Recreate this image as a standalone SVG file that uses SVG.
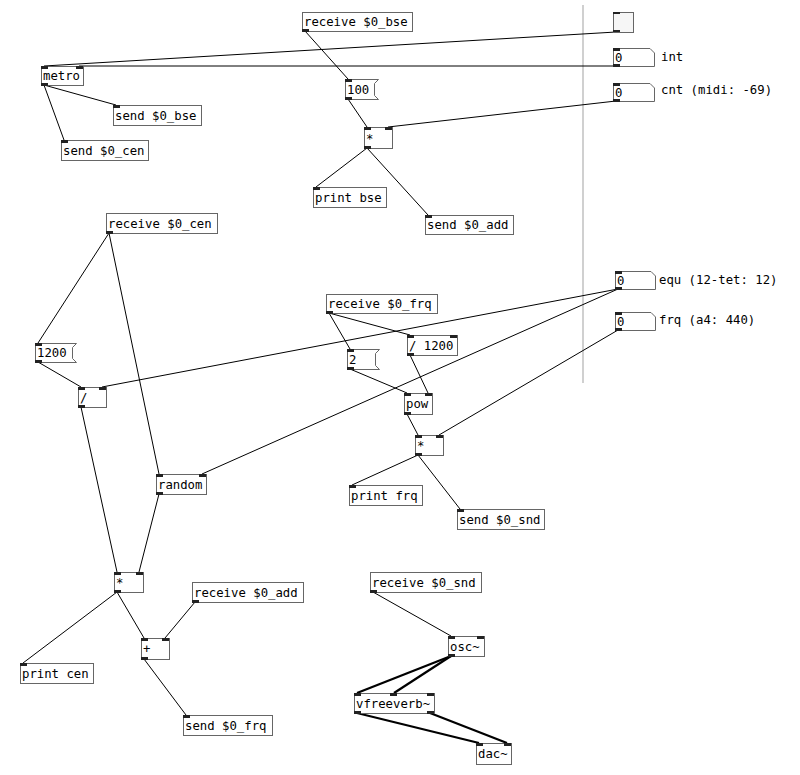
<svg xmlns="http://www.w3.org/2000/svg" width="800" height="775" viewBox="0 0 800 775">
<style>
.bx{fill:#fff;stroke:#666;stroke-width:1}
.io{fill:#222}
.t{font-family:"DejaVu Sans Mono","Liberation Mono",monospace;font-size:12.3px;fill:#000}
.c line{stroke:#000;stroke-width:1}
.c line.s{stroke-width:2.2}
</style>
<rect width="800" height="775" fill="#fff"/>
<line x1="583" y1="5" x2="583" y2="383" stroke="#d0d0d0" stroke-width="2"/>
<g class="c" id="connectors">
<line x1="616" y1="32" x2="44" y2="66"/>
<line x1="616" y1="66" x2="79" y2="66"/>
<line x1="44" y1="85" x2="116" y2="105"/>
<line x1="44" y1="85" x2="64" y2="140"/>
<line x1="305" y1="31" x2="348" y2="79"/>
<line x1="348" y1="99" x2="367" y2="127"/>
<line x1="616" y1="101" x2="388" y2="127"/>
<line x1="367" y1="148" x2="316" y2="187"/>
<line x1="367" y1="148" x2="428" y2="215"/>
<line x1="109" y1="233" x2="38" y2="343"/>
<line x1="109" y1="233" x2="159" y2="474"/>
<line x1="38" y1="362" x2="81" y2="387"/>
<line x1="618" y1="289" x2="102" y2="387"/>
<line x1="618" y1="289" x2="202" y2="474"/>
<line x1="81" y1="407" x2="117" y2="572"/>
<line x1="159" y1="494" x2="139" y2="572"/>
<line x1="117" y1="592" x2="23" y2="663"/>
<line x1="117" y1="592" x2="144" y2="638"/>
<line x1="195" y1="602" x2="165" y2="638"/>
<line x1="144" y1="659" x2="186" y2="715"/>
<line x1="329" y1="313" x2="350" y2="349"/>
<line x1="329" y1="313" x2="410" y2="335"/>
<line x1="350" y1="369" x2="407" y2="393"/>
<line x1="410" y1="355" x2="428" y2="393"/>
<line x1="407" y1="414" x2="418" y2="435"/>
<line x1="618" y1="330" x2="439" y2="435"/>
<line x1="418" y1="455" x2="352" y2="485"/>
<line x1="418" y1="455" x2="460" y2="509"/>
<line x1="373" y1="592" x2="451" y2="636"/>
<line class="s" x1="451" y1="656" x2="357" y2="693"/>
<line class="s" x1="451" y1="656" x2="394" y2="693"/>
<line class="s" x1="357" y1="713" x2="479" y2="743"/>
<line class="s" x1="430" y1="713" x2="507" y2="743"/>
</g>

<g id="bang">
<rect class="bx" x="613.5" y="12.5" width="20" height="20" style="fill:#f6f6f6"/>
<rect class="io" x="613" y="12" width="7" height="2"/>
<rect class="io" x="613" y="30" width="7" height="2"/>
</g>
<g id="nbx-int">
<path class="bx" d="M613.5,48.5 H650 L654.5,53 V66.5 H613.5 Z"/>
<rect class="io" x="613" y="48" width="7" height="3"/>
<rect class="io" x="613" y="64" width="7" height="3"/>
<text class="t" x="615" y="62">0</text>
<text class="t" x="661" y="61">int</text>
</g>
<g id="nbx-cnt">
<path class="bx" d="M613.5,83.5 H650 L654.5,88 V101.5 H613.5 Z"/>
<rect class="io" x="613" y="83" width="7" height="3"/>
<rect class="io" x="613" y="99" width="7" height="3"/>
<text class="t" x="615" y="97">0</text>
<text class="t" x="661" y="94">cnt (midi: -69)</text>
</g>
<g id="nbx-equ">
<path class="bx" d="M615.5,271.5 H651 L655.5,276 V289.5 H615.5 Z"/>
<rect class="io" x="615" y="271" width="7" height="3"/>
<rect class="io" x="615" y="287" width="7" height="3"/>
<text class="t" x="617" y="285">0</text>
<text class="t" x="659" y="284">equ (12-tet: 12)</text>
</g>
<g id="nbx-frq">
<path class="bx" d="M615.5,312.5 H651 L655.5,317 V330.5 H615.5 Z"/>
<rect class="io" x="615" y="312" width="7" height="3"/>
<rect class="io" x="615" y="328" width="7" height="3"/>
<text class="t" x="617" y="326">0</text>
<text class="t" x="659" y="324">frq (a4: 440)</text>
</g>

<g id="metro">
<rect class="bx" x="41.5" y="66.5" width="42" height="19"/>
<rect class="io" x="41" y="66" width="7" height="3"/>
<rect class="io" x="76" y="66" width="7" height="3"/>
<rect class="io" x="41" y="83" width="7" height="3"/>
<text class="t" x="43" y="80">metro</text>
</g>
<g id="send-bse">
<rect class="bx" x="113.5" y="105.5" width="88" height="20"/>
<rect class="io" x="113" y="105" width="7" height="3"/>
<text class="t" x="115" y="120">send $0_bse</text>
</g>
<g id="send-cen">
<rect class="bx" x="61.5" y="140.5" width="87" height="20"/>
<rect class="io" x="61" y="140" width="7" height="3"/>
<text class="t" x="63" y="155">send $0_cen</text>
</g>
<g id="receive-bse">
<rect class="bx" x="302.5" y="12.5" width="110" height="19"/>
<rect class="io" x="302" y="29" width="7" height="3"/>
<text class="t" x="304" y="26">receive $0_bse</text>
</g>
<g id="msg-100">
<path class="bx" d="M345.5,79.5 H378.5 L374.5,83.5 V95.5 L378.5,99.5 H345.5 Z"/>
<rect class="io" x="345" y="79" width="7" height="3"/>
<rect class="io" x="345" y="97" width="7" height="3"/>
<text class="t" x="347" y="94">100</text>
</g>
<g id="mul-bse">
<rect class="bx" x="364.5" y="127.5" width="28" height="21"/>
<rect class="io" x="364" y="127" width="7" height="3"/>
<rect class="io" x="385" y="127" width="7" height="3"/>
<rect class="io" x="364" y="146" width="7" height="3"/>
<text class="t" x="366" y="143">*</text>
</g>
<g id="print-bse">
<rect class="bx" x="313.5" y="187.5" width="73" height="20"/>
<rect class="io" x="313" y="187" width="7" height="3"/>
<text class="t" x="315" y="202">print bse</text>
</g>
<g id="send-add">
<rect class="bx" x="425.5" y="215.5" width="88" height="19"/>
<rect class="io" x="425" y="215" width="7" height="3"/>
<text class="t" x="427" y="229">send $0_add</text>
</g>

<g id="receive-cen">
<rect class="bx" x="106.5" y="213.5" width="111" height="20"/>
<rect class="io" x="106" y="231" width="7" height="3"/>
<text class="t" x="108" y="228">receive $0_cen</text>
</g>
<g id="msg-1200">
<path class="bx" d="M35.5,343.5 H76.5 L72.5,347.5 V358.5 L76.5,362.5 H35.5 Z"/>
<rect class="io" x="35" y="343" width="7" height="3"/>
<rect class="io" x="35" y="360" width="7" height="3"/>
<text class="t" x="37" y="357">1200</text>
</g>
<g id="div">
<rect class="bx" x="78.5" y="387.5" width="28" height="20"/>
<rect class="io" x="78" y="387" width="7" height="3"/>
<rect class="io" x="99" y="387" width="7" height="3"/>
<rect class="io" x="78" y="405" width="7" height="3"/>
<text class="t" x="80" y="402">/</text>
</g>
<g id="random">
<rect class="bx" x="156.5" y="474.5" width="50" height="20"/>
<rect class="io" x="156" y="474" width="7" height="3"/>
<rect class="io" x="199" y="474" width="7" height="3"/>
<rect class="io" x="156" y="492" width="7" height="3"/>
<text class="t" x="158" y="489">random</text>
</g>
<g id="mul-cen">
<rect class="bx" x="114.5" y="572.5" width="29" height="20"/>
<rect class="io" x="114" y="572" width="7" height="3"/>
<rect class="io" x="136" y="572" width="7" height="3"/>
<rect class="io" x="114" y="590" width="7" height="3"/>
<text class="t" x="116" y="587">*</text>
</g>
<g id="receive-add">
<rect class="bx" x="192.5" y="582.5" width="111" height="20"/>
<rect class="io" x="192" y="600" width="7" height="3"/>
<text class="t" x="194" y="597">receive $0_add</text>
</g>
<g id="add">
<rect class="bx" x="141.5" y="638.5" width="28" height="21"/>
<rect class="io" x="141" y="638" width="7" height="3"/>
<rect class="io" x="162" y="638" width="7" height="3"/>
<rect class="io" x="141" y="657" width="7" height="3"/>
<text class="t" x="143" y="653">+</text>
</g>
<g id="print-cen">
<rect class="bx" x="20.5" y="663.5" width="73" height="20"/>
<rect class="io" x="20" y="663" width="7" height="3"/>
<text class="t" x="22" y="678">print cen</text>
</g>
<g id="send-frq">
<rect class="bx" x="183.5" y="715.5" width="89" height="20"/>
<rect class="io" x="183" y="715" width="7" height="3"/>
<text class="t" x="185" y="730">send $0_frq</text>
</g>

<g id="receive-frq">
<rect class="bx" x="326.5" y="294.5" width="111" height="19"/>
<rect class="io" x="326" y="311" width="7" height="3"/>
<text class="t" x="328" y="308">receive $0_frq</text>
</g>
<g id="msg-2">
<path class="bx" d="M347.5,349.5 H379.5 L375.5,353.5 V365.5 L379.5,369.5 H347.5 Z"/>
<rect class="io" x="347" y="349" width="7" height="3"/>
<rect class="io" x="347" y="367" width="7" height="3"/>
<text class="t" x="349" y="364">2</text>
</g>
<g id="div-1200">
<rect class="bx" x="407.5" y="335.5" width="50" height="20"/>
<rect class="io" x="407" y="335" width="7" height="3"/>
<rect class="io" x="450" y="335" width="7" height="3"/>
<rect class="io" x="407" y="353" width="7" height="3"/>
<text class="t" x="409" y="350">/ 1200</text>
</g>
<g id="pow">
<rect class="bx" x="404.5" y="393.5" width="28" height="21"/>
<rect class="io" x="404" y="393" width="7" height="3"/>
<rect class="io" x="425" y="393" width="7" height="3"/>
<rect class="io" x="404" y="412" width="7" height="3"/>
<text class="t" x="406" y="408">pow</text>
</g>
<g id="mul-frq">
<rect class="bx" x="415.5" y="435.5" width="28" height="20"/>
<rect class="io" x="415" y="435" width="7" height="3"/>
<rect class="io" x="436" y="435" width="7" height="3"/>
<rect class="io" x="415" y="453" width="7" height="3"/>
<text class="t" x="417" y="450">*</text>
</g>
<g id="print-frq">
<rect class="bx" x="349.5" y="485.5" width="73" height="20"/>
<rect class="io" x="349" y="485" width="7" height="3"/>
<text class="t" x="351" y="500">print frq</text>
</g>
<g id="send-snd">
<rect class="bx" x="457.5" y="509.5" width="87" height="20"/>
<rect class="io" x="457" y="509" width="7" height="3"/>
<text class="t" x="459" y="524">send $0_snd</text>
</g>

<g id="receive-snd">
<rect class="bx" x="370.5" y="572.5" width="111" height="20"/>
<rect class="io" x="370" y="590" width="7" height="3"/>
<text class="t" x="372" y="587">receive $0_snd</text>
</g>
<g id="osc">
<rect class="bx" x="448.5" y="636.5" width="36" height="20"/>
<rect class="io" x="448" y="636" width="7" height="3"/>
<rect class="io" x="477" y="636" width="7" height="3"/>
<rect class="io" x="448" y="654" width="7" height="3"/>
<text class="t" x="450" y="651">osc~</text>
</g>
<g id="vfreeverb">
<rect class="bx" x="354.5" y="693.5" width="80" height="20"/>
<rect class="io" x="354" y="693" width="7" height="3"/>
<rect class="io" x="390" y="693" width="7" height="3"/>
<rect class="io" x="427" y="693" width="7" height="3"/>
<rect class="io" x="354" y="711" width="7" height="3"/>
<rect class="io" x="427" y="711" width="7" height="3"/>
<text class="t" x="356" y="708">vfreeverb~</text>
</g>
<g id="dac">
<rect class="bx" x="476.5" y="743.5" width="35" height="21"/>
<rect class="io" x="476" y="743" width="7" height="3"/>
<rect class="io" x="504" y="743" width="7" height="3"/>
<text class="t" x="478" y="758">dac~</text>
</g>
</svg>
